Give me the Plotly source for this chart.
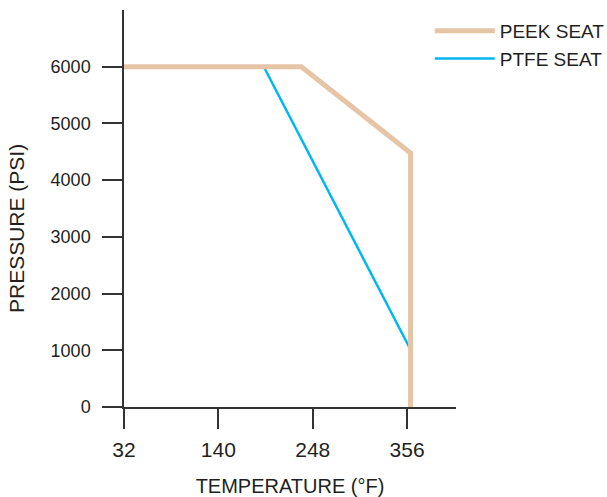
import plotly.graph_objects as go

peek_temp = [32, 235, 360, 360]
peek_psi = [6000, 6000, 4480, 0]
ptfe_temp = [192, 359]
ptfe_psi = [6000, 1040]
x_ticks = [32, 140, 248, 356]
y_ticks = [0, 1000, 2000, 3000, 4000, 5000, 6000]

FONT = "Liberation Sans, Arial, sans-serif"
AX = "#333333"

fig = go.Figure()
fig.add_trace(go.Scatter(x=ptfe_temp, y=ptfe_psi, mode="lines", name="PTFE SEAT",
                         line=dict(color="#00B7EF", width=2.5), legendrank=2))
fig.add_trace(go.Scatter(x=peek_temp, y=peek_psi, mode="lines", name="PEEK SEAT",
                         line=dict(color="#E6C4A6", width=5), legendrank=1))

fig.update_layout(
    width=607, height=497,
    margin=dict(l=124, r=151, t=10, b=90, autoexpand=False),
    plot_bgcolor="white", paper_bgcolor="white",
    font=dict(family=FONT, size=18, color="#231f20"),
    showlegend=True,
    legend=dict(x=0.708, y=0.976, xanchor="left", yanchor="top", xref="container", yref="container",
                font=dict(size=19), itemwidth=60, tracegroupgap=0, bgcolor="rgba(0,0,0,0)"),
    xaxis=dict(range=[32, 412], tickvals=x_ticks, ticks="outside", ticklen=20, tickwidth=1.5,
               tickcolor=AX, showline=True, linecolor=AX, linewidth=1.5, showgrid=False,
               zeroline=False, automargin=False, tickfont=dict(size=21), ticklabelstandoff=3,
               title=dict(text="TEMPERATURE (°F)", standoff=19, font=dict(size=20))),
    yaxis=dict(range=[0, 7000], tickvals=y_ticks, ticks="outside", ticklen=20, tickwidth=1.5,
               tickcolor=AX, showline=True, linecolor=AX, linewidth=1.5, showgrid=False,
               zeroline=False, automargin=False, ticklabelstandoff=8),
    annotations=[dict(text="PRESSURE (PSI)", xref="paper", yref="paper",
                      x=(17 - 124) / 332, y=(407 - 229) / 397, xanchor="center", yanchor="middle",
                      textangle=-90, showarrow=False,
                      font=dict(family=FONT, size=21, color="#231f20"))],
)

fig.write_html("out.html", post_script="document.body.style.margin='0';",
               config={"displayModeBar": False})
